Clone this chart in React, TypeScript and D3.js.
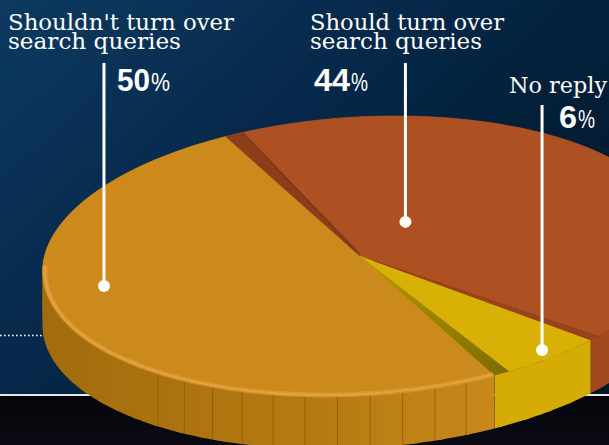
import React from "react";
import * as d3 from "d3";

const categories = ["Shouldn't turn over search queries", "Should turn over search queries", "No reply"];
const values = [50, 44, 6];
const labelLines = [["Shouldn't turn over", "search queries"], ["Should turn over", "search queries"], ["No reply"]];
const pctLabels = ["50", "44", "6"];
const topColors = ["#cd8a1c", "#ad5022", "#d8b006"];
const sideColors = ["url(#orangeSide)", "#a1481f", "#d4ac04"];
const rimColors = ["#e3a23c", "#c0602c", "#f0cf2a"];

const W = 609, H = 445;
const G = { cx: 360, cy: 256, rx: 318, ry: 139, tilt: -3.5, depth: 53 };
const tr = (G.tilt * Math.PI) / 180;
const rad = (d: number) => (d * Math.PI) / 180;

function P(a: number, r = 1): [number, number] {
  const x = G.rx * r * Math.cos(a), y = G.ry * r * Math.sin(a);
  return [G.cx + x * Math.cos(tr) - y * Math.sin(tr), G.cy + x * Math.sin(tr) + y * Math.cos(tr)];
}
function arcPts(a0: number, a1: number, r = 1): [number, number][] {
  const n = Math.max(2, Math.ceil(Math.abs(a1 - a0) / rad(1)));
  return d3.range(n + 1).map((i) => P(a0 + ((a1 - a0) * i) / n, r));
}
const line = d3.line();

const pie = d3.pie<number>().sort(null).value((d) => d).startAngle(rad(156.5)).endAngle(rad(156.5 + 360));
const arcs = pie(values).map((p, i) => ({ i, a0: p.startAngle - Math.PI / 2, a1: p.endAngle - Math.PI / 2 }));

// label layout (annotation positions)
const labelPos = [
  { x: 8, y: 30, lens: [226, 173], px: 117, py: 91, nl: 33, pl: 19, lineTop: 63, t: 0.59, r: 0.816 },
  { x: 310, y: 30, lens: [194, 172], px: 314, py: 91, nl: 36, pl: 17, lineTop: 63, t: 0.36, r: 0.27 },
  { x: 509, y: 93, lens: [98], px: 559, py: 128, nl: 18, pl: 17, lineTop: 105, t: 0.41, r: 0.936 },
];

export default function App() {
  // side chunks sorted back to front (slightly overlapping to hide seams)
  const chunks: { i: number; d: string; key: number }[] = [];
  arcs.forEach((s) => {
    const step = rad(5);
    const ov = rad(0.6);
    for (let a = s.a0; a < s.a1 - 1e-6; a += step) {
      const b = Math.min(a + step, s.a1);
      const top = arcPts(a === s.a0 ? a : a - ov, b === s.a1 ? b : b + ov);
      const bot = top.map((p) => [p[0], p[1] + G.depth] as [number, number]).reverse();
      const mid = P((a + b) / 2);
      chunks.push({ i: s.i, d: line([...top, ...bot])! + "Z", key: mid[1] });
    }
  });
  chunks.sort((a, b) => a.key - b.key);

  const facets = d3.range(72, 136, 5.9).map((deg) => {
    const p = P(rad(deg));
    return [p, [p[0], p[1] + G.depth]] as [number, number][];
  });

  const center = P(0, 0);
  const tops = arcs.map((s) => line([center, ...arcPts(s.a0, s.a1)])! + "Z");

  // radial walls between slices
  const ob = arcs[1].a0; // orange/brown
  const by = arcs[2].a0; // brown/yellow
  const oy = arcs[0].a0 + Math.PI * 2; // yellow/orange
  const strips = [
    { d: line([center, P(ob), P(ob + rad(3.4)), P(ob + rad(20), 0.03)])! + "Z", fill: "#8c3d1a" },
    { d: line([center, P(by - rad(1.8)), P(by), P(by, 0.02)])! + "Z", fill: "#97431d" },
    { d: line([center, P(oy - rad(3)), P(oy), P(oy, 0.02)])! + "Z", fill: "url(#olive)" },
  ];

  const front = (s: { a0: number; a1: number }) => {
    const lo = Math.max(s.a0, rad(-8)), hi = Math.min(s.a1, rad(184));
    const lo2 = Math.max(s.a0, rad(352)), hi2 = Math.min(s.a1, rad(368));
    const out: string[] = [];
    if (hi > lo) out.push(line(arcPts(lo, hi, 0.992))!);
    if (hi2 > lo2) out.push(line(arcPts(lo2, hi2, 0.992))!);
    return out;
  };

  return (
    <svg width={W} height={H} style={{ display: "block", position: "absolute", left: 0, top: 0 }}>
      <defs>
        <linearGradient id="bg" x1="0" y1="0" x2="1" y2="0.7">
          <stop offset="0" stopColor="#0d3a60" />
          <stop offset="0.45" stopColor="#06284a" />
          <stop offset="1" stopColor="#001729" />
        </linearGradient>
        <linearGradient id="floor" x1="0" y1="0" x2="0" y2="1">
          <stop offset="0" stopColor="#040409" />
          <stop offset="1" stopColor="#0b0b14" />
        </linearGradient>
        <linearGradient id="orangeSide" gradientUnits="userSpaceOnUse" x1="40" y1="0" x2="495" y2="0">
          <stop offset="0" stopColor="#a26c0c" />
          <stop offset="0.6" stopColor="#b57a12" />
          <stop offset="1" stopColor="#c8881a" />
        </linearGradient>
        <linearGradient id="olive" gradientUnits="userSpaceOnUse" x1="360" y1="258" x2="495" y2="380">
          <stop offset="0" stopColor="#b89a00" />
          <stop offset="1" stopColor="#7f6d00" />
        </linearGradient>
      </defs>
      <rect x={0} y={0} width={W} height={396} fill="url(#bg)" />
      <rect x={0} y={396} width={W} height={H - 396} fill="url(#floor)" />
      <line x1={0} x2={W} y1={395} y2={395} stroke="#e6e6e6" strokeWidth={2} />
      <line x1={0} x2={46} y1={335.5} y2={335.5} stroke="#ffffff" strokeWidth={1.6} strokeDasharray="1.6,2.4" />

      {chunks.map((c, k) => (
        <path key={k} d={c.d} fill={sideColors[c.i]} />
      ))}
      {facets.map((f, k) => (
        <path key={k} d={line(f)!} stroke="#8a5808" strokeWidth={1} opacity={0.7} />
      ))}
      {arcs.map((s) => (
        <path key={s.i} d={line([P(s.a0), [P(s.a0)[0], P(s.a0)[1] + G.depth]])!} stroke="#000" strokeOpacity={0.15} strokeWidth={1} />
      ))}

      {tops.map((d, i) => (
        <path key={i} d={d} fill={topColors[i]} stroke={topColors[i]} strokeWidth={0.5} />
      ))}
      {strips.map((s, k) => (
        <path key={k} d={s.d} fill={s.fill} />
      ))}
      <path d={line([P(by - rad(1.9), 0.06), P(by - rad(1.9))])!} stroke="#6e2d10" strokeWidth={0.8} strokeDasharray="2,1.5" opacity={0.8} />
      <path d={line([P(ob + rad(3.4), 0.03), P(ob + rad(3.4))])!} stroke="#5e2a10" strokeWidth={0.8} opacity={0.7} />

      {arcs.map((s) =>
        front(s).map((d, k) => (
          <g key={`${s.i}-${k}`}>
            <path d={d} fill="none" stroke={rimColors[s.i]} strokeWidth={5} opacity={0.55} />
            <path d={d} fill="none" stroke={rimColors[s.i]} strokeWidth={2} />
          </g>
        ))
      )}

      {labelPos.map((lp, i) => {
        const s = arcs[i];
        const dot = P(s.a0 + (s.a1 - s.a0) * lp.t, lp.r);
        return (
          <g key={i}>
            <line x1={dot[0]} x2={dot[0]} y1={lp.lineTop} y2={dot[1]} stroke="#fff" strokeWidth={3} />
            <circle cx={dot[0]} cy={dot[1]} r={6} fill="#fff" />
            {labelLines[i].map((t, j) => (
              <text key={j} x={lp.x} y={lp.y + j * 19} fill="#fff" fontFamily="DejaVu Serif" fontSize={23}
                textLength={lp.lens[j]} lengthAdjust="spacingAndGlyphs">{t}</text>
            ))}
            <text x={lp.px} y={lp.py} fill="#fff" fontFamily="Liberation Sans, Arial, sans-serif" fontWeight="bold" fontSize={32}
              textLength={lp.nl} lengthAdjust="spacingAndGlyphs">{pctLabels[i]}</text>
            <text x={lp.px + lp.nl + 1} y={lp.py} fill="#fff" fontFamily="Liberation Sans, Arial, sans-serif" fontSize={25}
              textLength={lp.pl} lengthAdjust="spacingAndGlyphs">%</text>
          </g>
        );
      })}
    </svg>
  );
}
